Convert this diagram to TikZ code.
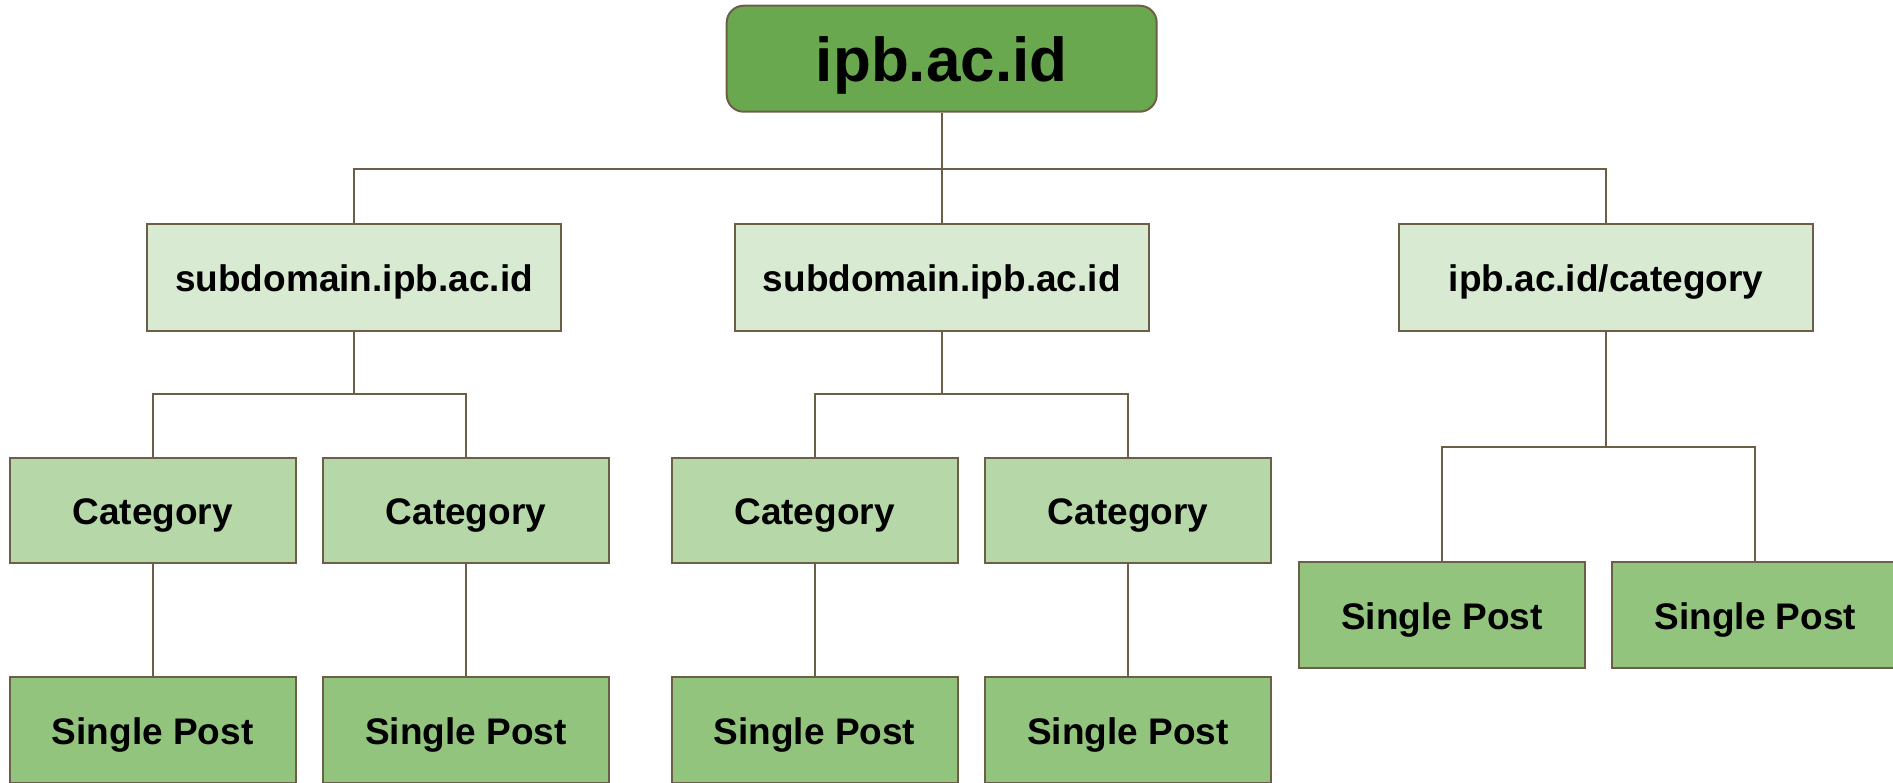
\documentclass[tikz,border=0pt]{standalone}
\usepackage{fontspec}
\setmainfont{Liberation Sans}
\definecolor{edge}{HTML}{6B5F48}
\definecolor{rootfill}{HTML}{6AA84F}
\definecolor{lone}{HTML}{D9EAD3}
\definecolor{ltwo}{HTML}{B6D7A8}
\definecolor{lthree}{HTML}{93C47D}
\begin{document}
\begin{tikzpicture}[x=1pt,y=-1pt,
  box/.style={draw=edge,line width=2pt,inner sep=0pt,text height=28.5pt,text depth=0pt,font=\bfseries\fontsize{37}{42}\selectfont},
  rootbox/.style={box,fill=rootfill,rounded corners=17pt,minimum width=430pt,minimum height=106pt,text height=46pt,font=\bfseries\fontsize{62}{70}\selectfont},
  subbox/.style={box,fill=lone,minimum width=414pt,minimum height=107pt},
  catbox/.style={box,fill=ltwo,minimum width=286pt,minimum height=105pt},
  postbox/.style={box,fill=lthree,minimum width=286pt,minimum height=106pt},
  link/.style={draw=edge,line width=2pt}]
\useasboundingbox (0,0) rectangle (1893,782);
\node[rootbox] (root) at (941.7,58.7) {ipb.ac.id};
\node[subbox] (s1) at (354,277.5) {subdomain.ipb.ac.id};
\node[subbox] (s2) at (941.7,277.5) {subdomain.ipb.ac.id};
\node[subbox] (s3) at (1606,277.5) {ipb.ac.id/category};
\node[catbox] (c1) at (152.7,510) {Category};
\node[catbox] (c2) at (466,510) {Category};
\node[catbox] (c3) at (814.5,510) {Category};
\node[catbox] (c4) at (1128,510) {Category};
\node[postbox] (p1) at (152.7,730) {Single Post};
\node[postbox] (p2) at (466,730) {Single Post};
\node[postbox] (p3) at (814.5,730) {Single Post};
\node[postbox] (p4) at (1128,730) {Single Post};
\node[postbox] (p5) at (1442,615.2) {Single Post};
\node[postbox] (p6) at (1755.4,615.2) {Single Post};
\coordinate (j0) at (941.7,169);
\coordinate (j1) at (354,393.5);
\coordinate (j2) at (941.7,393.5);
\coordinate (j3) at (1606,446.7);
\draw[link] (root.south) -- (s2.north);
\draw[link] (s1.north) |- (j0) -| (s3.north);
\draw[link] (s1.south) -- (j1);
\draw[link] (c1.north) |- (j1) -| (c2.north);
\draw[link] (s2.south) -- (j2);
\draw[link] (c3.north) |- (j2) -| (c4.north);
\draw[link] (s3.south) -- (j3);
\draw[link] (p5.north) |- (j3) -| (p6.north);
\draw[link] (c1.south) -- (p1.north);
\draw[link] (c2.south) -- (p2.north);
\draw[link] (c3.south) -- (p3.north);
\draw[link] (c4.south) -- (p4.north);
\end{tikzpicture}
\end{document}
